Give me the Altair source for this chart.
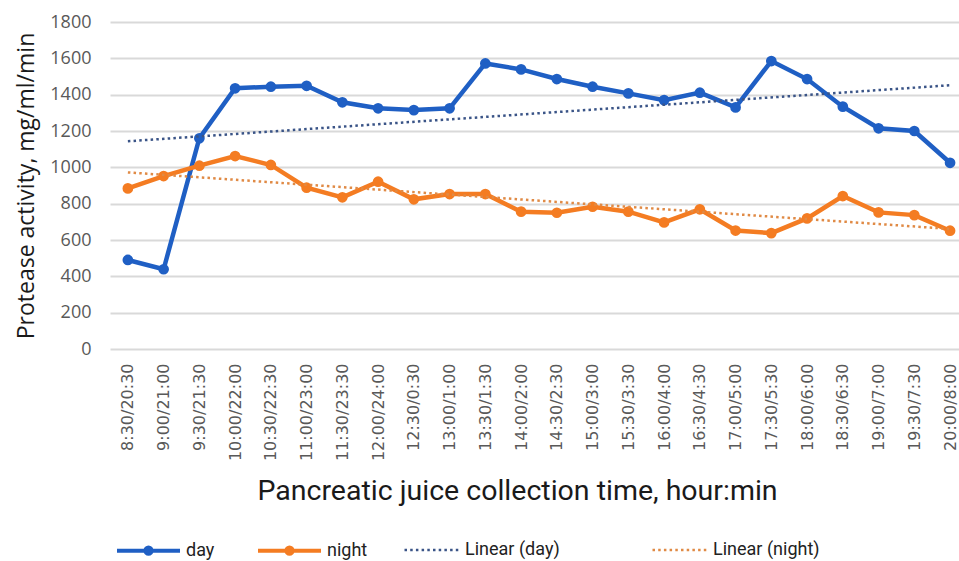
import json
import altair as alt
import pandas as pd

labels = ["8:30/20:30", "9:00/21:00", "9:30/21:30", "10:00/22:00", "10:30/22:30",
          "11:00/23:00", "11:30/23:30", "12:00/24:00", "12:30/0:30", "13:00/1:00",
          "13:30/1:30", "14:00/2:00", "14:30/2:30", "15:00/3:00", "15:30/3:30",
          "16:00/4:00", "16:30/4:30", "17:00/5:00", "17:30/5:30", "18:00/6:00",
          "18:30/6:30", "19:00/7:00", "19:30/7:30", "20:00/8:00"]
day = [490, 439, 1160, 1435, 1444, 1449, 1358, 1325, 1315, 1325, 1572, 1539,
       1486, 1444, 1407, 1370, 1411, 1330, 1585, 1486, 1334, 1215, 1200, 1025]
night = [884, 952, 1009, 1062, 1013, 888, 835, 921, 824, 853, 853, 756,
         750, 783, 756, 697, 769, 652, 638, 719, 842, 752, 737, 651]
series_names = ["day", "night"]
trend_names = ["Linear (day)", "Linear (night)"]
series_colors = ["#1F5FC4", "#F47C22"]
trend_colors = ["#3A5487", "#E08A45"]

rows = []
for name, vals in zip(series_names, [day, night]):
    for i, v in enumerate(vals):
        rows.append({"idx": i, "label": labels[i], "series": name, "value": v})
df = pd.DataFrame(rows)

label_expr = json.dumps(labels) + "[datum.value]"

x_enc = alt.X(
    "idx:Q",
    scale=alt.Scale(domain=[-0.5, 23.25], nice=False, zero=False),
    axis=alt.Axis(
        values=list(range(24)), labelExpr=label_expr, labelAngle=-90,
        labelFont="DejaVu Sans", labelFontSize=16, labelColor="#595959",
        labelPadding=14, labelOverlap=False, labelFlush=False, labelBound=False,
        ticks=False, domain=False, grid=False,
        title="Pancreatic juice collection time, hour:min",
        titleFont="Roboto", titleFontSize=28.5, titleFontWeight="normal",
        titleColor="#1a1a1a", titleX=407, titleY=150, titleAlign="center",
        titleBaseline="alphabetic", titleAnchor="start",
    ),
)
y_enc = alt.Y(
    "value:Q",
    scale=alt.Scale(domain=[0, 1800], nice=False),
    axis=alt.Axis(
        values=list(range(0, 1801, 200)), format="d", labelFont="Open Sans",
        labelFontSize=18, labelColor="#595959", labelPadding=19, ticks=False,
        domain=False, grid=True, gridColor="#D9D9D9", gridWidth=2,
        title="Protease activity, mg/ml/min", titleFont="Open Sans",
        titleFontSize=23, titleFontWeight="normal", titleColor="#1a1a1a",
        titleAngle=-90, titleX=-77, titleY=163.5, titleAlign="center",
        titleBaseline="alphabetic", titleAnchor="start",
    ),
)

sym_path = ("M-1,0L1,0M-0.1,0A0.1,0.1,0,1,0,0.1,0"
            "A0.1,0.1,0,1,0,-0.1,0Z")
color_legend = alt.Legend(
    title=None, orient="none", legendX=5, legendY=495, direction="horizontal",
    symbolType=sym_path, symbolSize=3969, symbolStrokeWidth=4,
    labelFont="Roboto", labelFontSize=18, labelColor="#222222",
    columnPadding=35, labelOffset=4, padding=0,
)
color_enc = alt.Color(
    "series:N",
    scale=alt.Scale(domain=series_names, range=series_colors),
    legend=color_legend,
)

base = alt.Chart(df)
lines = base.mark_line(strokeWidth=4.5).encode(x=x_enc, y=y_enc, color=color_enc)
points = base.mark_circle(size=115, opacity=1).encode(x=x_enc, y=y_enc, color=color_enc)

trend_legend = alt.Legend(
    title=None, orient="none", legendX=293, legendY=499, direction="horizontal",
    symbolType="stroke", symbolSize=3025, symbolStrokeWidth=2.5,
    symbolDash=[2.5, 3.2], labelFont="Roboto", labelFontSize=18,
    labelColor="#222222", columnPadding=87, labelOffset=4, padding=0,
)
trends = base.transform_regression(
    "idx", "value", groupby=["series"]
).transform_calculate(
    trend="'Linear (' + datum.series + ')'"
).mark_line(strokeDash=[2.5, 3.2], strokeWidth=2.5).encode(
    x=x_enc, y=y_enc,
    stroke=alt.Stroke("trend:N", scale=alt.Scale(domain=trend_names, range=trend_colors),
                      legend=trend_legend),
)

chart = alt.layer(lines, points, trends).properties(
    width=849, height=327,
    autosize=alt.AutoSizeParams(type="none"),
    padding={"left": 110, "top": 22, "right": 0, "bottom": 212},
    background="white",
).configure_view(stroke=None)

chart.save("out.html", embed_options={"renderer": "svg", "actions": False})
